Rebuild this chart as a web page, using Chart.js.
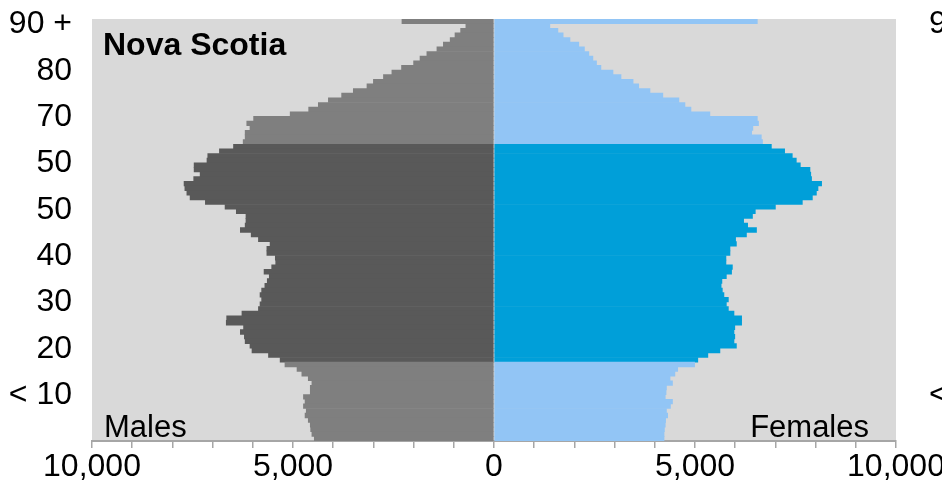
<!DOCTYPE html>
<html>
<head>
<meta charset="utf-8">
<script src="https://cdn.jsdelivr.net/npm/chart.js@4.4.1/dist/chart.umd.min.js"></script>
<style>
  html, body { margin: 0; padding: 0; background: #fff; overflow: hidden; }
  #wrap { width: 942px; height: 496px; }
</style>
</head>
<body>
<div id="wrap"><canvas id="chart" width="942" height="496"></canvas></div>
<script>
// age groups, oldest at the top
const ages = ['90+','89','88','87','86','85','84','83','82','81',
  '80','79','78','77','76','75','74','73','72','71',
  '70','69','68','67','66','65','64','63','62','61',
  '60','59','58','57','56','55','54','53','52','51',
  '50','49','48','47','46','45','44','43','42','41',
  '40','39','38','37','36','35','34','33','32','31',
  '30','29','28','27','26','25','24','23','22','21',
  '20','19','18','17','16','15','14','13','12','11',
  '10','9','8','7','6','5','4','3','2','1','0'];

const males = [2290, 700, 830, 970, 1090, 1260, 1420, 1670, 1840, 2000,
  2300, 2540, 2750, 3000, 3160, 3500, 3790, 4120, 4370, 4610,
  5070, 5980, 6150, 6070, 6190, 6190, 6240, 6480, 6830, 7120,
  7140, 7460, 7460, 7310, 7470, 7710, 7690, 7640, 7560, 7180,
  6690, 6410, 6170, 6170, 6190, 6310, 6040, 5860, 5570, 5650,
  5650, 5440, 5430, 5530, 5720, 5590, 5640, 5700, 5780, 5820,
  5780, 5820, 5860, 6270, 6650, 6660, 6230, 6310, 6210, 6190,
  6070, 6020, 5610, 5320, 5200, 4900, 4780, 4620, 4530, 4570,
  4570, 4740, 4700, 4740, 4670, 4700, 4620, 4570, 4560, 4530, 4470];

const females = [6550, 1390, 1590, 1720, 1890, 2110, 2250, 2360, 2460, 2550,
  2660, 2960, 3160, 3460, 3600, 3880, 4200, 4600, 4750, 4900,
  5370, 6550, 6580, 6440, 6410, 6650, 6680, 6900, 7230, 7420,
  7520, 7620, 7860, 7880, 7900, 8150, 8060, 8020, 7920, 7670,
  7000, 6500, 6430, 6210, 6310, 6530, 6280, 6010, 6030, 5870,
  5870, 5770, 5770, 5930, 5910, 5780, 5670, 5650, 5680, 5720,
  5830, 5780, 5830, 5970, 6160, 6160, 5990, 5970, 5990, 5970,
  6030, 5620, 5320, 5070, 4990, 4570, 4500, 4380, 4440, 4290,
  4280, 4260, 4440, 4390, 4290, 4320, 4270, 4260, 4240, 4230, 4230];

// highlighted age band
const bandFrom = 17;
const bandTo = 63;

// y tick labels (as printed in the original)
const tickAges = ['90+','80','70','60','50','40','30','20','10'];
const tickText = ['90 +','80','70','50','50','40','30','20','< 10'];

// labelled x ticks
const xLabelled = [-10000, -5000, 0, 5000, 10000];

const FONT = "'Liberation Sans', Arial, sans-serif";
Chart.defaults.font.family = FONT;

const inBand = ages.map(a => {
	const n = parseInt(a);
	return n >= bandFrom && n <= bandTo;
});

// plot background
const bgPlugin = {
	id: 'bg',
	beforeDraw(chart) {
		const {ctx, chartArea: a} = chart;
		ctx.save();
		ctx.fillStyle = '#d9d9d9';
		ctx.fillRect(a.left, a.top, a.right - a.left, a.bottom - a.top);
		ctx.restore();
	}
};

// title, side labels and the cut-off labels of the next panel
const textPlugin = {
	id: 'texts',
	afterDraw(chart) {
		const {ctx, chartArea: a} = chart;
		const y = chart.scales.y;
		ctx.save();
		ctx.fillStyle = '#000';
		ctx.textBaseline = 'alphabetic';
		ctx.font = 'bold 32px ' + FONT;
		ctx.textAlign = 'left';
		ctx.fillText('Nova Scotia', a.left + 11, 55);
		ctx.font = '31px ' + FONT;
		ctx.fillText('Males', a.left + 12, a.bottom - 4);
		ctx.textAlign = 'right';
		ctx.fillText('Females', a.right - 27, a.bottom - 4);
		ctx.font = '32px ' + FONT;
		ctx.textAlign = 'left';
		ctx.textBaseline = 'middle';
		ctx.fillText('90 +', 929, y.getPixelForValue(ages.indexOf('90+')) + 3);
		ctx.fillText('< 10', 929, y.getPixelForValue(ages.indexOf('10')) + 3);
		ctx.restore();
	}
};

let ctx = document.getElementById('chart').getContext('2d');
let chart = new Chart(ctx, {
	type: 'bar',
	data: {
		labels: ages,
		datasets: [{
			label: 'Males',
			data: males.map(v => -v),
			backgroundColor: inBand.map(b => b ? '#595959' : '#7f7f7f'),
			borderWidth: 0,
			barPercentage: 1,
			categoryPercentage: 1
		}, {
			label: 'Females',
			data: females,
			backgroundColor: inBand.map(b => b ? '#009fd9' : '#92c5f5'),
			borderWidth: 0,
			barPercentage: 1,
			categoryPercentage: 1
		}]
	},
	options: {
		indexAxis: 'y',
		responsive: false,
		animation: false,
		layout: { padding: { top: 19, right: 46, left: 0, bottom: 0 } },
		plugins: {
			legend: { display: false },
			tooltip: { enabled: false }
		},
		scales: {
			x: {
				stacked: true,
				min: -10000,
				max: 10000,
				ticks: {
					stepSize: 1000,
					autoSkip: false,
					maxRotation: 0,
					color: '#000',
					font: { size: 32 },
					padding: 0,
					callback: v => xLabelled.includes(v) ? Math.abs(v).toLocaleString('en-US') : ''
				},
				grid: { drawOnChartArea: false, tickLength: 7, color: '#a6a6a6', lineWidth: 1.5 },
				border: { color: '#a6a6a6', width: 2 },
				afterFit: s => {
					s.height = 55;
					s.paddingLeft = 0;
					s.paddingRight = 0;
				}
			},
			y: {
				stacked: true,
				ticks: {
					autoSkip: false,
					color: '#000',
					font: { size: 32 },
					padding: 12,
					labelOffset: 3,
					callback: (v, i) => {
						const k = tickAges.indexOf(ages[i]);
						return k >= 0 ? tickText[k] : '';
					}
				},
				grid: { display: false },
				border: { display: false },
				afterFit: s => {
					s.width = 92;
					s.paddingTop = 0;
					s.paddingBottom = 0;
				}
			}
		}
	},
	plugins: [bgPlugin, textPlugin]
});
</script>
</body>
</html>
